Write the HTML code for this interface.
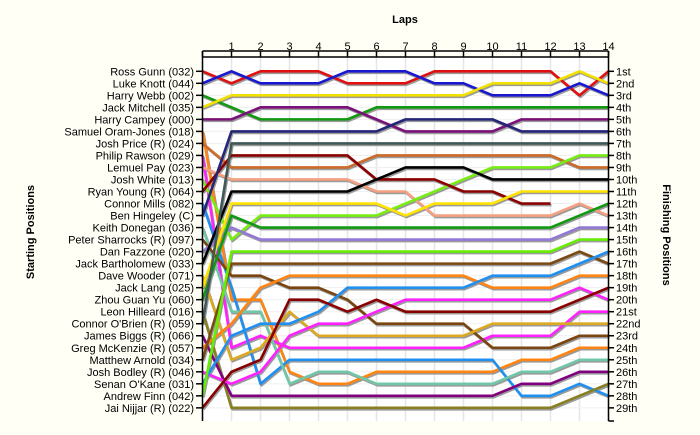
<!DOCTYPE html>
<html><head><meta charset="utf-8"><style>
body{margin:0;background:#fffff6;}
svg{display:block;font-family:"Liberation Sans",Arial,sans-serif;}
</style></head><body>
<svg width="700" height="435" viewBox="0 0 700 435" xmlns="http://www.w3.org/2000/svg">
<rect x="0" y="0" width="700" height="435" fill="#fffff6"/>
<rect x="202.5" y="57" width="406" height="364" fill="#ffffff"/>
<g id="grid"></g>
<g id="series"></g>
<g id="axes"></g>
<text x="405" y="23" font-size="11" font-weight="bold" text-anchor="middle">Laps</text>
<text transform="translate(34,232) rotate(-90)" font-size="11" font-weight="bold" text-anchor="middle">Starting Positions</text>
<text transform="translate(663,235) rotate(90)" font-size="11" font-weight="bold" text-anchor="middle">Finishing Positions</text>
</svg>
<script>
const laps = [0,1,2,3,4,5,6,7,8,9,10,11,12,13,14];
const lapLabels = ["","1","2","3","4","5","6","7","8","9","10","11","12","13","14"];
const startNames = ["Ross Gunn (032)","Luke Knott (044)","Harry Webb (002)","Jack Mitchell (035)","Harry Campey (000)","Samuel Oram-Jones (018)","Josh Price (R) (024)","Philip Rawson (029)","Lemuel Pay (023)","Josh White (013)","Ryan Young (R) (064)","Connor Mills (082)","Ben Hingeley (C)","Keith Donegan (036)","Peter Sharrocks (R) (097)","Dan Fazzone (020)","Jack Bartholomew (033)","Dave Wooder (071)","Jack Lang (025)","Zhou Guan Yu (060)","Leon Hilleard (016)","Connor O'Brien (R) (059)","James Biggs (R) (066)","Greg McKenzie (R) (057)","Matthew Arnold (034)","Josh Bodley (R) (046)","Senan O'Kane (031)","Andrew Finn (042)","Jai Nijjar (R) (022)"];
const finishLabels = ["1st","2nd","3rd","4th","5th","6th","7th","8th","9th","10th","11th","12th","13th","14th","15th","16th","17th","18th","19th","20th","21st","22nd","23rd","24th","25th","26th","27th","28th","29th"];
const seriesPositions = [
 [1,2,1,1,1,2,2,2,1,1,1,1,1,3,1],
 [2,1,2,2,2,1,1,1,2,2,3,3,3,2,3],
 [3,4,5,5,5,5,4,4,4,4,4,4,4,4,4],
 [4,3,3,3,3,3,3,3,3,3,2,2,2,1,2],
 [5,5,4,4,4,4,5,6,6,6,6,5,5,5,5],
 [6,20,20,26,27,27,26,26,26,26,26,25,25,24,24],
 [7,9,9,9,9,9,8,8,8,8,8,8,8,9,9],
 [8,24,23,24,24,24,24,24,24,24,23,23,23,21,21],
 [9,10,10,10,10,10,11,11,13,13,13,13,13,12,13],
 [10,15,13,13,13,13,13,12,11,10,9,9,9,8,8],
 [11,8,8,8,8,8,10,10,10,11,11,12,12],
 [12,19,27,25,25,25,25,25,25,25,25,28,28,27,28],
 [13,6,6,6,6,6,6,5,5,5,5,6,6,6,6],
 [14,21,21,27,26,26,27,27,27,27,27,26,26,25,25],
 [15,18,18,19,19,20,22,22,22,22,24,24,24,23,23],
 [16,14,15,15,15,15,15,15,15,15,15,15,15,14,14],
 [17,11,11,11,11,11,10,9,9,9,10,10,10,10,10],
 [18,25,24,21,23,23,23,23,23,23,22,22,22,22,22],
 [19,12,12,12,12,12,12,13,12,12,12,11,11,11,11],
 [20,13,14,14,14,14,14,14,14,14,14,14,14,13,12],
 [21,29,29,29,29,29,29,29,29,29,29,29,29,28,27],
 [22,7,7,7,7,7,7,7,7,7,7,7,7,7,7],
 [23,28,28,28,28,28,28,28,28,28,28,27,27,26,26],
 [24,22,19,18,18,18,18,18,18,18,19,19,19,18,18],
 [25,17,17,17,17,17,17,17,17,17,17,17,17,16,17],
 [26,27,26,23,22,22,21,20,20,20,20,20,20,19,20],
 [27,23,22,22,21,19,19,19,19,19,18,18,18,17,16],
 [28,16,16,16,16,16,16,16,16,16,16,16,16,15,15],
 [29,26,25,20,20,21,20,21,21,21,21,21,21,20,19]
];
const seriesColors = ["#e01010","#1818d0","#119911","#f2e000","#7a117a","#ff8412","#cc6a28","#ff22ff","#f5a080","#77ee11","#8b0000","#2090f0","#25257a","#70c8a8","#7a4510","#9478d8","#000000","#dcaa22","#ffe400","#119911","#888020","#3f5858","#800080","#ff8412","#7a4a12","#ff22ff","#2090f0","#66ee00","#880000"];

const NS="http://www.w3.org/2000/svg";
function xScale(l){return 202.5+29*l;}
function yScale(p){return 71.3+12.02*(p-1);}
const grid=document.getElementById('grid');
const axes=document.getElementById('axes');
const series=document.getElementById('series');
function mk(tag,attrs,parent){const e=document.createElementNS(NS,tag);for(const k in attrs)e.setAttribute(k,attrs[k]);parent.appendChild(e);return e;}

laps.forEach((l,i)=>{
  const g=mk('line',{x1:xScale(l),x2:xScale(l),y1:57,y2:421,stroke:'#e6e6e6','stroke-width':1.5},grid);
  
  
  const t=mk('line',{x1:xScale(l),x2:xScale(l),y1:51,y2:57,stroke:'#000','stroke-width':1.5},axes);
  
  
  if(lapLabels[i]){
    const tx=mk('text',{x:xScale(l),y:50,'font-size':11,'text-anchor':'middle'},axes);
    tx.textContent=lapLabels[i];
    
    
  }
});
finishLabels.forEach((lab,i)=>{
  const y=yScale(i+1);
  const g=mk('line',{x1:202.5,x2:608.5,y1:y,y2:y,stroke:'#efefef','stroke-width':1},grid);
  
  
  const tl=mk('line',{x1:196,x2:202.5,y1:y,y2:y,stroke:'#000','stroke-width':1.5},axes);
  
  
  const tr=mk('line',{x1:608.5,x2:614,y1:y,y2:y,stroke:'#000','stroke-width':1.5},axes);
  
  
  const nl=mk('text',{x:194,y:y+4,'font-size':11,'text-anchor':'end'},axes);
  nl.textContent=startNames[i];
  
  
  const fl=mk('text',{x:616,y:y+4,'font-size':11},axes);
  fl.textContent=lab;
  
  
});
[[202.5,51,608.5,51],[202.5,51,202.5,421],[608.5,51,608.5,421],[608.5,421,614,421]].forEach(c=>{
  const a=mk('line',{x1:c[0],y1:c[1],x2:c[2],y2:c[3],stroke:'#000','stroke-width':1.5},axes);
  
  
});
const tb=mk('line',{x1:202.5,y1:57,x2:608.5,y2:57,stroke:'#000','stroke-width':1.5},axes);



seriesPositions.forEach((pos,i)=>{
  const pts=pos.map((p,l)=>xScale(laps[l])+','+yScale(p)).join(' ');
  const sh=mk('polyline',{points:pts,fill:'none',stroke:'#9a9a9a','stroke-width':2.6,'stroke-linejoin':'round',transform:'translate(1,1.5)'},series);
  
  
});
seriesPositions.forEach((pos,i)=>{
  const pts=pos.map((p,l)=>xScale(laps[l])+','+yScale(p)).join(' ');
  const pl=mk('polyline',{points:pts,fill:'none',stroke:seriesColors[i],'stroke-width':2.6,'stroke-linejoin':'round'},series);
  
  
});
</script>
</body></html>
